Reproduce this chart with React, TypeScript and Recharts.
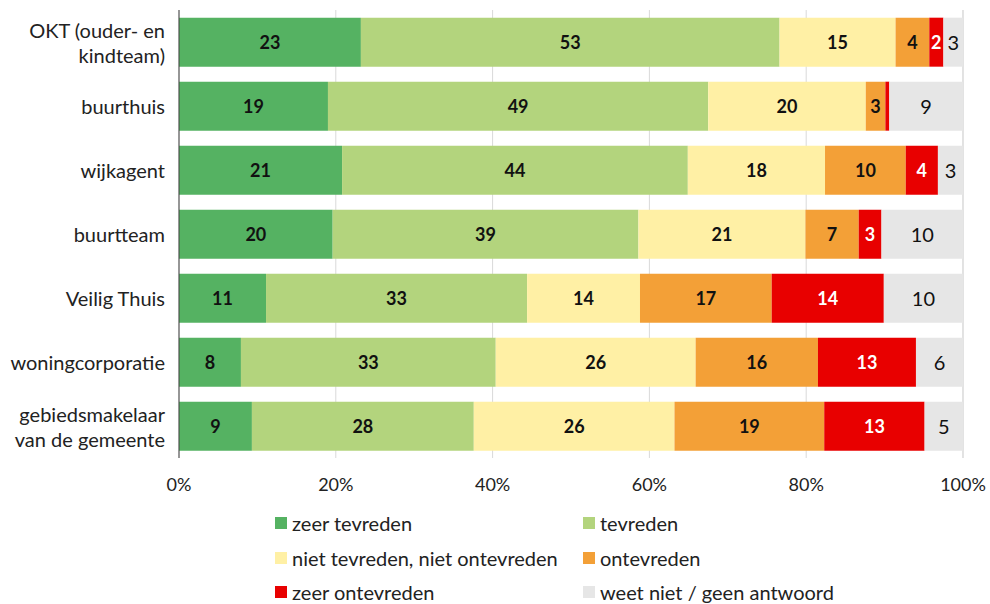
import React from 'react';
import {
  BarChart,
  Bar,
  XAxis,
  YAxis,
  CartesianGrid,
  Legend,
  LabelList,
} from 'recharts';

const categories = [
  'OKT (ouder- en\nkindteam)',
  'buurthuis',
  'wijkagent',
  'buurtteam',
  'Veilig Thuis',
  'woningcorporatie',
  'gebiedsmakelaar\nvan de gemeente',
];

const zeerTevreden = [23.2, 19.0, 20.8, 19.6, 11.1, 7.9, 9.3];
const tevreden = [53.4, 48.5, 44.1, 39.0, 33.3, 32.5, 28.3];
const neutraal = [14.8, 20.1, 17.5, 21.3, 14.4, 25.5, 25.6];
const ontevreden = [4.3, 2.5, 10.3, 6.8, 16.8, 15.6, 19.1];
const zeerOntevreden = [1.8, 0.5, 4.1, 2.9, 14.3, 12.5, 12.8];
const weetNiet = [2.5, 9.4, 3.2, 10.4, 10.1, 6.0, 4.9];

const xTicks = [0, 20, 40, 60, 80, 100];

const series = [
  { key: 'zeerTevreden', name: 'zeer tevreden', color: '#55b262', values: zeerTevreden, text: '#111' },
  { key: 'tevreden', name: 'tevreden', color: '#b3d47d', values: tevreden, text: '#111' },
  { key: 'neutraal', name: 'niet tevreden, niet ontevreden', color: '#fff0a5', values: neutraal, text: '#111' },
  { key: 'ontevreden', name: 'ontevreden', color: '#f3a037', values: ontevreden, text: '#111' },
  { key: 'zeerOntevreden', name: 'zeer ontevreden', color: '#e80000', values: zeerOntevreden, text: '#fff' },
  { key: 'weetNiet', name: 'weet niet / geen antwoord', color: '#e6e6e6', values: weetNiet, text: '#111' },
];

const rows = categories.map((cat, i) => {
  const row: Record<string, string | number> = { cat };
  series.forEach((s) => {
    row[s.key] = s.values[i];
  });
  return row;
});

const FONT = 'Lato, "Open Sans", sans-serif';

function CategoryTick(props: any) {
  const { x, y, payload } = props;
  const lines = String(payload.value).split('\n');
  const lh = 25;
  const start = y - ((lines.length - 1) * lh) / 2;
  return (
    <text x={x - 6} y={start} textAnchor="end" fontFamily={FONT} fontSize={20} fill="#222" dominantBaseline="central">
      {lines.map((l, i) => (
        <tspan key={i} x={x - 6} y={start + i * lh}>
          {l}
        </tspan>
      ))}
    </text>
  );
}

const makeLabel = (fill: string, bold: boolean) => (props: any) => {
  const { x, y, width, height, value } = props;
  if (value < 1) return null;
  return (
    <text
      x={x + width / 2}
      y={y + height / 2}
      textAnchor="middle"
      dominantBaseline="central"
      fontFamily={FONT}
      fontSize={bold ? 18 : 20}
      fontWeight={bold ? 700 : 400}
      fill={fill}
    >
      {Math.round(value)}
    </text>
  );
};

function LegendBox() {
  return (
    <div style={{ position: 'relative', width: 990, height: 100, fontFamily: FONT, fontSize: 20, color: '#222' }}>
      {series.map((s, i) => {
        const col = i % 2;
        const row = Math.floor(i / 2);
        return (
          <div
            key={s.key}
            style={{
              position: 'absolute',
              left: col ? 583 : 275,
              top: row * 34.5,
              height: 24,
              display: 'flex',
              alignItems: 'center',
              whiteSpace: 'nowrap',
            }}
          >
            <span style={{ display: 'inline-block', width: 12, height: 12, background: s.color, marginRight: 5 }} />
            <span>{s.name}</span>
          </div>
        );
      })}
    </div>
  );
}

export default function App() {
  return (
    <div style={{ position: 'absolute', left: 0, top: 0, width: 990, height: 604, background: '#fff' }}>
      <BarChart
        width={990}
        height={604}
        data={rows}
        layout="vertical"
        barCategoryGap="12%"
        margin={{ top: 10, right: 27, bottom: 6, left: 0 }}
      >
        <CartesianGrid horizontal={false} stroke="#d9d9d9" />
        <XAxis
          type="number"
          domain={[0, 100]}
          ticks={xTicks}
          tickFormatter={(v) => `${v}%`}
          axisLine={false}
          tickLine={false}
          height={40}
          tickMargin={14}
          tick={{ fontFamily: FONT, fontSize: 18, fill: '#222' }}
        />
        <YAxis
          type="category"
          dataKey="cat"
          width={179}
          tickLine={false}
          axisLine={{ stroke: '#404040' }}
          tick={<CategoryTick />}
          interval={0}
        />
        <Legend content={() => <LegendBox />} wrapperStyle={{ top: 511, left: 0, width: 990 }} />
        {series.map((s) => (
          <Bar key={s.key} dataKey={s.key} name={s.name} stackId="a" fill={s.color} isAnimationActive={false}>
            <LabelList dataKey={s.key} content={makeLabel(s.text, s.key !== 'weetNiet')} />
          </Bar>
        ))}
      </BarChart>
    </div>
  );
}
